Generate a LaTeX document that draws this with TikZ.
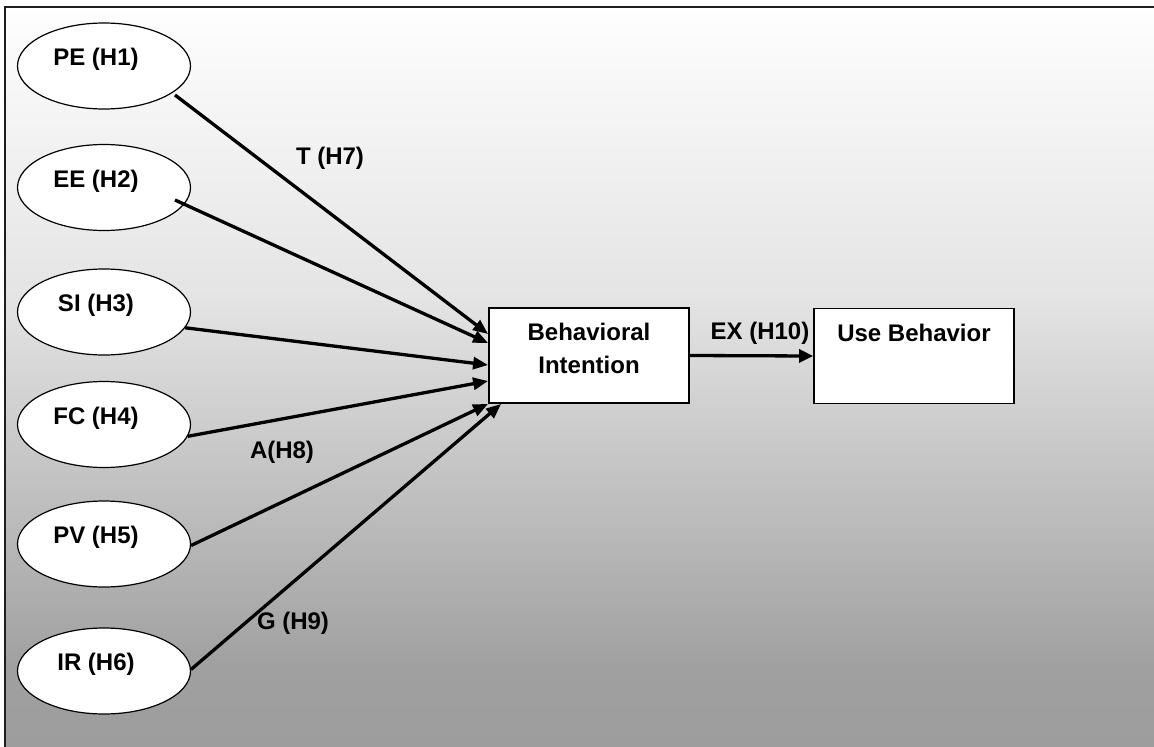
\documentclass[tikz,border=0pt]{standalone}
\usepackage{fontspec}
\setmainfont{Liberation Sans}
\usetikzlibrary{arrows.meta,shapes.geometric}
\definecolor{bgA}{RGB}{254,254,254}
\definecolor{bgB}{RGB}{228,228,228}
\definecolor{bgC}{RGB}{160,160,160}
\definecolor{bgD}{RGB}{157,157,157}
\definecolor{framecol}{RGB}{30,30,30}
\begin{document}
\begin{tikzpicture}[x=1pt,y=-1pt,
  lbl/.style={font=\fontsize{24}{33}\selectfont\bfseries, inner sep=0pt, text=black},
  construct/.style={ellipse, draw=black, line width=1.2pt, fill=white,
    minimum width=173pt, minimum height=86pt, inner sep=0pt},
  stagebox/.style={rectangle, draw=black, line width=1.8pt, fill=white,
    minimum width=200pt, minimum height=95pt, inner sep=0pt},
  path/.style={line width=3.3pt, -{Triangle[length=15pt,width=12pt]}},
  mainpath/.style={line width=3.3pt, -{Triangle[length=14pt,width=13pt]}}
]
\useasboundingbox (0,0) rectangle (1154,747);
\fill[white] (0,0) rectangle (1154,747);
\begin{scope}
\clip (0,0) rectangle (1154,747);
% background gradient inside the frame
\shade[top color=bgA, bottom color=bgB] (5,7) rectangle (1154,297.5);
\shade[top color=bgB, bottom color=bgC] (5,297) rectangle (1154,667.5);
\shade[top color=bgC, bottom color=bgD] (5,667) rectangle (1154,747);
% frame (its right and bottom sides fall outside the page)
\draw[line width=2pt, framecol] (5,770) -- (5,7) -- (1170,7);
\end{scope}

% constructs
\node[construct] (PE) at (104,66) {};
\node[construct] (EE) at (104,187.5) {};
\node[construct] (SI) at (104,312) {};
\node[construct] (FC) at (104,424.5) {};
\node[construct] (PV) at (104,544) {};
\node[construct] (IR) at (104,671) {};
\node[lbl] (PEt) at ([xshift=-8pt,yshift=6.5pt]PE.center) {PE (H1)};
\node[lbl] (EEt) at ([xshift=-8pt,yshift=6.5pt]EE.center) {EE (H2)};
\node[lbl] (SIt) at ([xshift=-8pt,yshift=6.5pt]SI.center) {SI (H3)};
\node[lbl] (FCt) at ([xshift=-8pt,yshift=6.5pt]FC.center) {FC (H4)};
\node[lbl] (PVt) at ([xshift=-8pt,yshift=6.5pt]PV.center) {PV (H5)};
\node[lbl] (IRt) at ([xshift=-8pt,yshift=6.5pt]IR.center) {IR (H6)};

% outcome boxes
\node[stagebox] (BI) at (589,355.5) {};
\node[stagebox] (UB) at (914,356) {};
\node[lbl, anchor=north, align=center] (BIt) at ([yshift=-16pt]BI.north) {Behavioral\\Intention};
\node[lbl, anchor=north] (UBt) at ([yshift=-16pt]UB.north) {Use Behavior};

% paths
\draw[path] ([shift={(71,29)}]PE.center) -- ([yshift=21.5pt]BI.west);
\draw[path] ([shift={(71,12.5)}]EE.center) -- ([yshift=12.5pt]BI.west);
\draw[path] (SI.-11) -- ([yshift=-9.5pt]BI.west);
\draw[path] (FC.-8) -- ([yshift=-25.5pt]BI.west);
\draw[path] (PV.-1) -- (BI.south west);
\draw[path] (IR.1) -- ([xshift=13pt]BI.south west);
\draw[mainpath] (BI.east) -- (UB.west);

% moderators
\node[lbl] (T7) at (330,158) {T (H7)};
\node[lbl] (A8) at (282,452) {A(H8)};
\node[lbl] (G9) at (293,623) {G (H9)};
\node[lbl] (EX10) at (760,333) {EX (H10)};
\end{tikzpicture}
\end{document}
